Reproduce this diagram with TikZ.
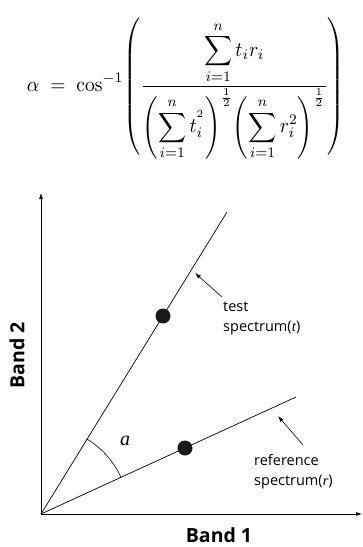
\documentclass[tikz,border=0pt]{standalone}
\usepackage{amsmath}
\usepackage{fontspec}
\setsansfont{Open Sans}
\newfontfamily\lblserif{Liberation Serif}
\usetikzlibrary{arrows.meta,calc}
\begin{document}
\begin{tikzpicture}[x=1pt,y=-1pt,
  axis/.style={line width=0.7pt,-{Latex[length=6pt,width=4pt]}},
  ray/.style={line width=0.7pt},
  callout/.style={line width=0.6pt,-{Latex[length=6pt,width=4pt]}},
  dot/.style={circle,fill=black!90,minimum size=15pt,inner sep=0pt},
  lbl/.style={font=\sffamily\fontsize{14.5}{20}\selectfont,align=left,inner sep=0pt},
  band/.style={font=\sffamily\bfseries\fontsize{19.5}{22}\selectfont,inner sep=0pt}]
\useasboundingbox (0,0) rectangle (362,547);
% formula
\node[inner sep=0pt] (formula) at (186,88.5) {\resizebox*{318pt}{142pt}{$\displaystyle
\alpha \;=\; \cos^{-1}\!\left(\frac{\displaystyle\sum_{i=1}^{n} t_i r_i}{\left(\displaystyle\sum_{i=1}^{n} t_i^{{}^{2}}\right)^{\frac12}\!\left(\displaystyle\sum_{i=1}^{n} r_i^{2}\right)^{\frac12}}\right)$}};
% axes
\coordinate (O) at (41,514);
\coordinate (ytop) at (41,193);
\coordinate (xend) at (362,514);
\draw[axis] (O) -- (ytop);
\draw[axis] (O) -- (xend);
% rays
\coordinate (tend) at (227,212);
\coordinate (rend) at (296,397);
\draw[ray] (O) -- (tend);
\draw[ray] (O) -- (rend);
% angle arc
\coordinate (arcA) at ($(O)!88pt!(tend)$);
\draw[line width=0.6pt] (arcA) arc[start angle=-58.4, end angle=-24.6, radius=88];
\node[font=\lblserif\itshape\fontsize{20}{20}\selectfont,inner sep=0pt] (alab) at (125,441) {a};
% dots
\node[dot] (dt) at (163,316) {};
\node[dot] (dr) at (185,448) {};
% callouts
\node[lbl,anchor=north west] (tlab) at (223,302) {test\\spectrum(\textit{\lblserif t})};
\node[lbl,anchor=north west] (rlab) at (254,454) {reference\\spectrum(\textit{\lblserif r})};
\coordinate (tarr) at (195,273);
\coordinate (rarr) at (278,416);
\draw[callout] (222,297) -- (tarr);
\draw[callout] (303,445) -- (rarr);
% band labels
\node[band,rotate=90] (b2) at (17,355) {Band 2};
\node[band] (b1) at (219,535) {Band 1};
\end{tikzpicture}
\end{document}
